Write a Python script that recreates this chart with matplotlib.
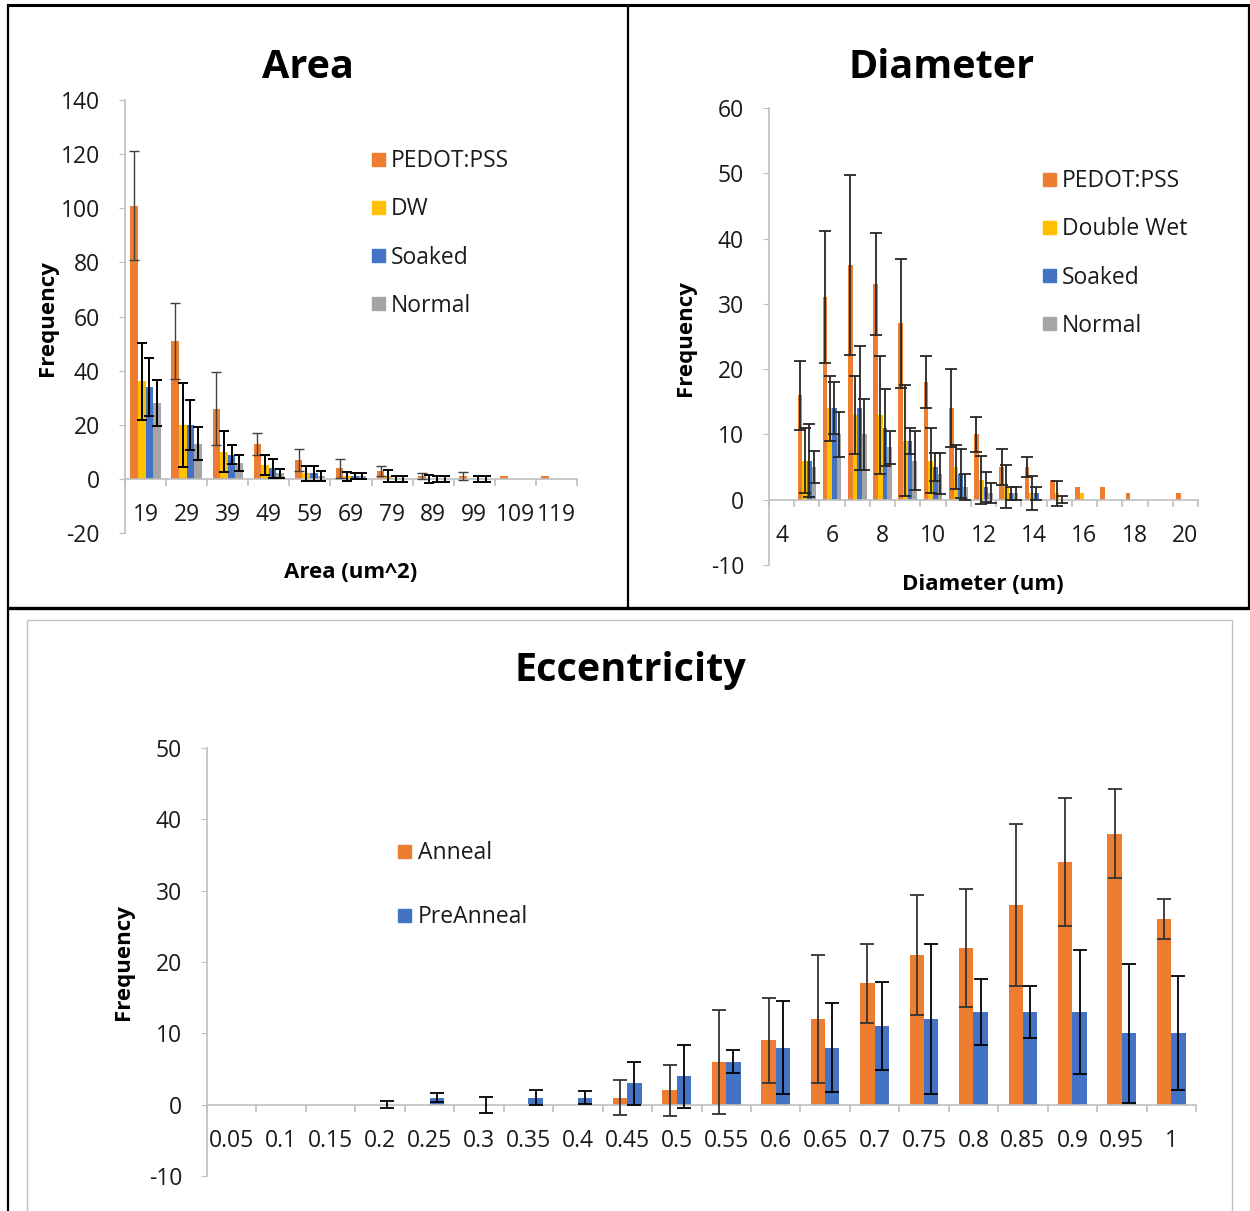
import numpy as np
import matplotlib
matplotlib.use("Agg")
import matplotlib.pyplot as plt
from matplotlib.lines import Line2D
from matplotlib.patches import Rectangle
from matplotlib.ticker import FixedLocator

plt.rcParams['font.family'] = ['Open Sans', 'DejaVu Sans']
plt.rcParams['axes.unicode_minus'] = False

# ---- data ----
area_cats = ['19', '29', '39', '49', '59', '69', '79', '89', '99', '109', '119']
area_pedot = [101, 51, 26, 13, 7, 4, 3, 1, 1, 1, 1]
area_pedot_err = [20, 14, 13.4, 4, 4, 3.5, 1.8, 1, 1.6, 0, 0]
area_dw = [36, 20, 10, 5, 2, 1, 1, 0, 0, 0, 0]
area_dw_err = [14.3, 15.5, 7.6, 3.7, 2.9, 1.7, 2.3, 1.5, 0, 0, 0]
area_soaked = [34, 20, 9, 4, 2, 1, 0, 0, 0, 0, 0]
area_soaked_err = [10.7, 9.2, 3.6, 3.5, 2.7, 1, 1, 1, 1, 0, 0]
area_normal = [28, 13, 6, 2, 1, 1, 0, 0, 0, 0, 0]
area_normal_err = [8.4, 6.2, 3, 1.8, 1.8, 1, 1, 1, 1, 0, 0]

diam_cats = [str(d) for d in range(4, 21)]
diam_pedot = [0, 16, 31, 36, 33, 27, 18, 14, 10, 5, 5, 3, 2, 2, 1, 0, 1]
diam_pedot_err = [0, 5.3, 10.1, 13.8, 7.8, 9.9, 4, 6, 2.7, 2.7, 1.5, 0, 0, 0, 0, 0, 0]
diam_dw = [0, 6, 14, 13, 13, 9, 6, 5, 3, 2, 1, 1, 1, 0, 0, 0, 0]
diam_dw_err = [0, 5, 5, 6, 9, 8.5, 5, 3.4, 3.7, 3.3, 2.6, 1.9, 0, 0, 0, 0, 0]
diam_soaked = [0, 6, 14, 14, 11, 9, 5, 4, 2, 1, 1, 0, 0, 0, 0, 0, 0]
diam_soaked_err = [0, 5.6, 4, 9.5, 5.9, 2, 2.2, 3.7, 2.3, 1, 1, 0.5, 0, 0, 0, 0, 0]
diam_normal = [0, 5, 10, 10, 8, 6, 4, 2, 1, 1, 0, 0, 0, 0, 0, 0, 0]
diam_normal_err = [0, 2.5, 3.4, 5.5, 2.5, 4.5, 3.2, 2, 1.5, 1, 0, 0, 0, 0, 0, 0, 0]

ecc_cats = ['0.05', '0.1', '0.15', '0.2', '0.25', '0.3', '0.35', '0.4', '0.45', '0.5',
            '0.55', '0.6', '0.65', '0.7', '0.75', '0.8', '0.85', '0.9', '0.95', '1']
ecc_anneal = [0, 0, 0, 0, 0, 0, 0, 0, 1, 2, 6, 9, 12, 17, 21, 22, 28, 34, 38, 26]
ecc_anneal_err = [0, 0, 0, 0, 0, 0, 0, 0, 2.4, 3.6, 7.3, 6, 9, 5.5, 8.4, 8.3, 11.4, 9, 6.2, 2.8]
ecc_pre = [0, 0, 0, 0, 1, 0, 1, 1, 3, 4, 6, 8, 8, 11, 12, 13, 13, 13, 10, 10]
ecc_pre_err = [0, 0, 0, 0.5, 0.6, 1.1, 1.1, 0.9, 3, 4.4, 1.6, 6.5, 6.2, 6.2, 10.5, 4.6, 3.6, 8.7, 9.7, 8]

ORANGE, YELLOW, BLUE, GRAY = '#ED7D31', '#FFC000', '#4472C4', '#A5A5A5'
AXCOL = '#bfbfbf'
W, H = 1250, 1211

fig = plt.figure(figsize=(W / 100, H / 100), dpi=100)


def px_axes(left, top, right, bottom):
    return fig.add_axes([left / W, 1 - bottom / H, (right - left) / W, (bottom - top) / H])


def style_axes(ax, ncat, ylim, ystep, labels, label_every=1, pad=17.5):
    ax.set_xlim(-0.5, ncat - 0.5)
    ax.set_ylim(*ylim)
    for s in ['top', 'right']:
        ax.spines[s].set_visible(False)
    ax.spines['bottom'].set_position(('data', 0))
    for s in ['left', 'bottom']:
        ax.spines[s].set_color(AXCOL)
        ax.spines[s].set_linewidth(1.2)
    ax.set_yticks(np.arange(ylim[0], ylim[1] + 0.1, ystep))
    ax.tick_params(axis='y', length=4, color=AXCOL, labelsize=16.5, labelcolor='#1a1a1a', pad=14)
    idx = np.arange(ncat)
    ax.set_xticks(idx)
    ax.set_xticklabels([l if i % label_every == 0 else '' for i, l in enumerate(labels)])
    ax.tick_params(axis='x', which='major', length=0, labelsize=16.5, labelcolor='#1a1a1a', pad=pad)
    ax.xaxis.set_minor_locator(FixedLocator(np.arange(ncat + 1) - 0.5))
    ax.tick_params(axis='x', which='minor', length=5, color=AXCOL, width=1.2)
    ax.patch.set_alpha(0)


def bars(ax, vals, errs, offset, width, color, ecolor, capsize, elw=1.2):
    x = np.arange(len(vals)) + offset
    vals = np.array(vals, dtype=float)
    errs = np.array(errs, dtype=float)
    ax.bar(x, vals, width, color=color, zorder=2)
    m = errs > 0
    ax.errorbar(x[m], vals[m], yerr=errs[m], fmt='none', ecolor=ecolor,
                elinewidth=elw, capsize=capsize, capthick=elw, zorder=3)


def legend(entries, x, y0, dy):
    for i, (name, col) in enumerate(entries):
        y = y0 + i * dy
        fig.add_artist(Rectangle(((x - 6.5) / W, 1 - (y + 6.5) / H), 13 / W, 13 / H,
                                 transform=fig.transFigure, color=col))
        fig.text((x + 13) / W, 1 - (y + 2) / H, name, fontsize=16.5, va='center', ha='left', color='#1a1a1a')


def title(x, y, s):
    fig.text(x / W, 1 - y / H, s, fontsize=28.5, fontweight='bold', ha='center', va='center')


def axlabel(x, y, s, rot=0):
    fig.text(x / W, 1 - y / H, s, fontsize=16, fontweight='bold', ha='center', va='center', rotation=rot)


# ---- Area ----
ax1 = px_axes(125, 100, 577, 533)
w = 0.185
for i, (v, e, c) in enumerate([(area_pedot, area_pedot_err, ORANGE), (area_dw, area_dw_err, YELLOW),
                               (area_soaked, area_soaked_err, BLUE), (area_normal, area_normal_err, GRAY)]):
    bars(ax1, v, e, (i - 1.5) * w, w, c, '#404040' if i == 0 else 'black', 3.6, 1.0 if i == 0 else 1.4)
style_axes(ax1, len(area_cats), (-20, 140), 20, area_cats)
title(308, 67, 'Area')
axlabel(351, 572, 'Area (um^2)')
axlabel(47, 318, 'Frequency', 90)
legend([('PEDOT:PSS', ORANGE), ('DW', YELLOW), ('Soaked', BLUE), ('Normal', GRAY)], 378, 159, 48.3)

# ---- Diameter ----
ax2 = px_axes(769, 108, 1198, 565)
for i, (v, e, c) in enumerate([(diam_pedot, diam_pedot_err, ORANGE), (diam_dw, diam_dw_err, YELLOW),
                               (diam_soaked, diam_soaked_err, BLUE), (diam_normal, diam_normal_err, GRAY)]):
    bars(ax2, v, e, (i - 1.5) * w, w, c, '#262626', 4.3, 1.3)
style_axes(ax2, len(diam_cats), (-10, 60), 10, diam_cats, label_every=2)
title(942, 67, 'Diameter')
axlabel(983, 585, 'Diameter (um)')
axlabel(686, 338, 'Frequency', 90)
legend([('PEDOT:PSS', ORANGE), ('Double Wet', YELLOW), ('Soaked', BLUE), ('Normal', GRAY)], 1049, 179, 48.3)

# ---- Eccentricity ----
ax3 = px_axes(207, 748, 1196, 1176)
we = 0.29
bars(ax3, ecc_anneal, ecc_anneal_err, -we / 2, we, ORANGE, '#333333', 4.7, 1.3)
bars(ax3, ecc_pre, ecc_pre_err, we / 2, we, BLUE, 'black', 4.7, 1.3)
style_axes(ax3, len(ecc_cats), (-10, 50), 10, ecc_cats)
title(630, 671, 'Eccentricity')
axlabel(124, 962, 'Frequency', 90)
legend([('Anneal', ORANGE), ('PreAnneal', BLUE)], 405, 851, 64)

# ---- table borders around the three charts ----
def fline(x0, y0, x1, y1, color='black', lw=2.0):
    fig.add_artist(Line2D([x0 / W, x1 / W], [1 - y0 / H, 1 - y1 / H], transform=fig.transFigure,
                          color=color, linewidth=lw, solid_capstyle='butt'))


fline(7, 5, 1250, 5, lw=2.2)
fline(8, 4, 8, 1211, lw=1.6)
fline(628, 5, 628, 608, lw=1.6)
fline(1249, 5, 1249, 608, lw=1.6)
fline(7, 608, 1250, 608, lw=2.4)
fline(27, 620, 1232, 620, color=AXCOL, lw=1.0)
fline(27, 620, 27, 1211, color=AXCOL, lw=1.0)
fline(1232, 620, 1232, 1211, color=AXCOL, lw=1.0)

fig.savefig('out.png', dpi=100)
